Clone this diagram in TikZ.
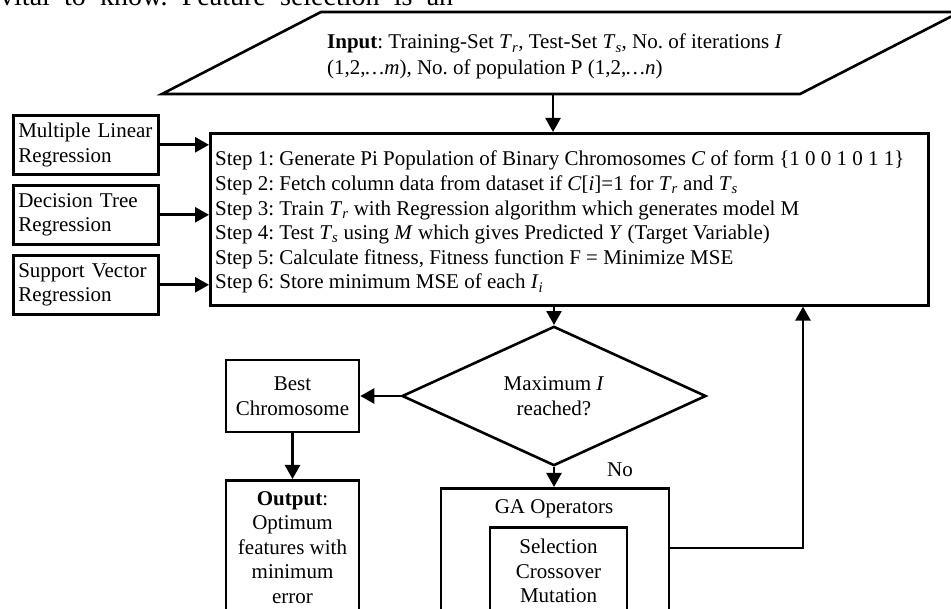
\documentclass[tikz,border=0pt]{standalone}
\usepackage{fontspec}
\setmainfont{Liberation Serif}
\usetikzlibrary{arrows.meta,shapes.geometric}
\newcommand\myTr{\textit{T}\textsubscript{\textit{r}}}
\newcommand\myTs{\textit{T}\textsubscript{\textit{s}}}
\frenchspacing
\begin{document}
\begin{tikzpicture}[x=1pt,y=-1pt,
  every node/.style={font=\fontsize{21}{24.6}\selectfont, inner sep=0pt},
  box/.style={draw, line width=2.6pt, rectangle},
  arr/.style={-{Triangle[length=14pt,width=15pt]}, line width=2.6pt},
  ln/.style={line width=2.6pt}]
\useasboundingbox (0,0) rectangle (951,609);
\clip (0,0) rectangle (951,609);

\node[anchor=base west, font=\fontsize{28}{32}\selectfont] (toptext) at (0,5.5) {\makebox[453pt][s]{vital to know. Feature selection is an}};

% input parallelogram
\draw[ln, line join=miter] (321,12) -- (960,12) -- (800,94) -- (162,94) -- cycle;
\node[anchor=north west, align=left, font=\fontsize{21}{26}\selectfont] (input) at (327,34) {\textbf{Input}: Training-Set \myTr, Test-Set \myTs, No. of iterations \textit{I}\\(1,2,\textit{\dots m}), No. of population P (1,2,\textit{\dots n})};
\coordinate (inbot) at (553,94);

% main box
\node[box, anchor=north west, minimum width=718pt, minimum height=172pt] (main) at (209,132) {};
\node[anchor=north west, align=left] (steps) at (215,151) {Step 1: Generate Pi Population of Binary Chromosomes \textit{C} of form \{1 0 0 1 0 1 1\}\\
Step 2: Fetch column data from dataset if \textit{C}[\textit{i}]=1 for \myTr{} and \myTs\\
Step 3: Train \myTr{} with Regression algorithm which generates model M\\
Step 4: Test \myTs{} using \textit{M} which gives Predicted \textit{Y} (Target Variable)\\
Step 5: Calculate fitness, Fitness function F = Minimize MSE\\
Step 6: Store minimum MSE of each \textit{I}\textsubscript{\textit{i}}};

% left boxes
\node[box, anchor=north west, inner xsep=5pt, text width=135pt, minimum height=59pt, align=left] (mlr) at (12,114) {Multiple Linear\\Regression};
\node[box, anchor=north west, inner xsep=5pt, text width=135pt, minimum height=59pt, align=left] (dtr) at (12,184) {Decision Tree\\Regression};
\node[box, anchor=north west, inner xsep=5pt, text width=135pt, minimum height=59pt, align=left] (svr) at (12,254) {Support Vector\\Regression};

% decision
\node[draw, diamond, line width=2.6pt, minimum width=304pt, minimum height=113pt, align=center] (dec) at (554,396) {Maximum \textit{I}\\reached?};

% best chromosome
\node[box, minimum width=133pt, minimum height=72pt, align=center] (best) at (292.5,396) {Best\\Chromosome};

% output
\node[box, anchor=north, minimum width=133pt, minimum height=160pt] (outbox) at (292.5,479) {};
\node[anchor=north, align=center] (outtext) at (292.5,491) {\textbf{Output}:\\Optimum\\features with\\minimum\\error};

% GA operators
\node[box, anchor=north, minimum width=228pt, minimum height=160pt] (ga) at (555,487) {};
\node[anchor=north] (gatext) at (554,499) {GA Operators};
\node[box, anchor=north, minimum width=137pt, minimum height=120pt] (ops) at (558.5,526) {};
\node[anchor=north, align=center] (opstext) at (558.5,539) {Selection\\Crossover\\Mutation};

\node (no) at (620,470) {No};
\coordinate (fb) at (803,548);

% connectors
\draw[arr] (inbot) -- (inbot |- main.north);
\draw[arr] (mlr.east) -- (mlr.east -| main.west);
\draw[arr] (dtr.east) -- (dtr.east -| main.west);
\draw[arr] (svr.east) -- (svr.east -| main.west);
\draw[arr] (main.south -| dec.north) -- (dec.north);
\draw[arr] (dec.west) -- (best.east);
\draw[arr] (best.south) -- (outbox.north);
\draw[arr] (dec.south) -- (dec.south |- ga.north);
\draw[arr] (ga.east |- fb) -- (fb) -- (fb |- main.south);
\end{tikzpicture}
\end{document}
